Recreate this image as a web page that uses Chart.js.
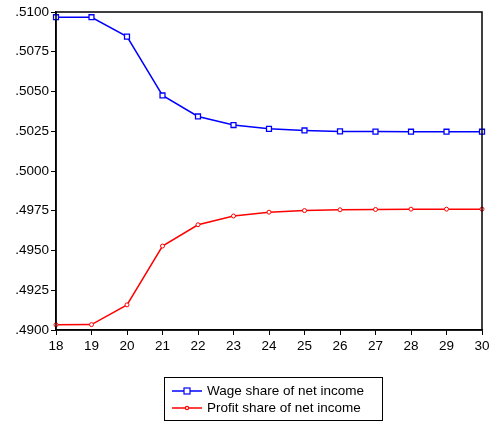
<!DOCTYPE html>
<html>
<head>
<meta charset="utf-8">
<script src="https://cdn.jsdelivr.net/npm/chart.js@4"></script>
<style>
  html, body { margin: 0; padding: 0; background: #fff; }
  canvas { display: block; }
</style>
</head>
<body>
<canvas id="chart" width="493" height="422"></canvas>
<script>
const years = [18, 19, 20, 21, 22, 23, 24, 25, 26, 27, 28, 29, 30];
const wageShare = [0.50967, 0.50967, 0.50845, 0.50475, 0.50343, 0.50289, 0.50265, 0.50255, 0.50249, 0.50248, 0.50247, 0.50247, 0.50247];
const profitShare = [0.49033, 0.49034, 0.49158, 0.49528, 0.49662, 0.49717, 0.49741, 0.49751, 0.49756, 0.49758, 0.49760, 0.49760, 0.49760];
const seriesNames = ["Wage share of net income", "Profit share of net income"];

const FONT = "'Liberation Sans', Arial, sans-serif";

// frame around plot + boxed legend under it
const frameAndLegend = {
  id: "frameAndLegend",
  afterDraw(chart) {
    const ctx = chart.ctx;
    const a = chart.chartArea;
    ctx.save();
    ctx.strokeStyle = "#000";
    ctx.lineWidth = 1.5;
    ctx.strokeRect(a.left, a.top, a.right - a.left, a.bottom - a.top);

    const bx = 164, by = 377, bw = 218, bh = 43;
    ctx.lineWidth = 1;
    ctx.strokeRect(bx + 0.5, by + 0.5, bw, bh);

    ctx.font = "13.5px " + FONT;
    ctx.textBaseline = "middle";
    chart.data.datasets.forEach((ds, i) => {
      const y = by + 14 + i * 17;
      ctx.strokeStyle = ds.borderColor;
      ctx.lineWidth = 1.5;
      ctx.beginPath();
      ctx.moveTo(bx + 8, y);
      ctx.lineTo(bx + 38, y);
      ctx.stroke();
      ctx.fillStyle = "#fff";
      ctx.lineWidth = 1.2;
      if (ds.pointStyle === "rect") {
        ctx.fillRect(bx + 20, y - 3, 6, 6);
        ctx.strokeRect(bx + 20, y - 3, 6, 6);
      } else {
        ctx.beginPath();
        ctx.arc(bx + 23, y, 1.6, 0, Math.PI * 2);
        ctx.fill();
        ctx.stroke();
      }
      ctx.fillStyle = "#000";
      ctx.fillText(ds.label, bx + 43, y);
    });
    ctx.restore();
  },
};

new Chart(document.getElementById("chart").getContext("2d"), {
  type: "line",
  data: {
    labels: years,
    datasets: [
      {
        label: seriesNames[0],
        data: wageShare,
        borderColor: "#0000FF",
        backgroundColor: "#FFFFFF",
        borderWidth: 1.5,
        pointStyle: "rect",
        pointRadius: 3.5,
        pointBorderWidth: 1.3,
        tension: 0,
      },
      {
        label: seriesNames[1],
        data: profitShare,
        borderColor: "#FF0000",
        backgroundColor: "#FFFFFF",
        borderWidth: 1.5,
        pointStyle: "circle",
        pointRadius: 2,
        pointBorderWidth: 1,
        tension: 0,
      },
    ],
  },
  options: {
    responsive: false,
    animation: false,
    devicePixelRatio: 1,
    layout: { padding: { top: 12, right: 11, bottom: 67, left: 0 } },
    plugins: {
      legend: { display: false },
      tooltip: { enabled: false },
    },
    scales: {
      x: {
        offset: false,
        grid: { display: true, drawOnChartArea: false, drawTicks: true, tickLength: 5, color: "#000" },
        border: { display: true, color: "#000", width: 1.5 },
        ticks: { color: "#000", font: { family: FONT, size: 13.5 }, padding: 3, maxRotation: 0, autoSkip: false },
        afterFit(scale) { scale.height = 25; },
      },
      y: {
        min: 0.49,
        max: 0.51,
        grid: { display: true, drawOnChartArea: false, drawTicks: true, tickLength: 5, color: "#000" },
        border: { display: true, color: "#000", width: 1.5 },
        ticks: {
          stepSize: 0.0025,
          color: "#000",
          font: { family: FONT, size: 13.5 },
          padding: 2,
          callback: v => v.toFixed(4).replace(/^0/, ""),
        },
        afterFit(scale) { scale.width = 56; },
      },
    },
  },
  plugins: [frameAndLegend],
});
</script>
</body>
</html>
